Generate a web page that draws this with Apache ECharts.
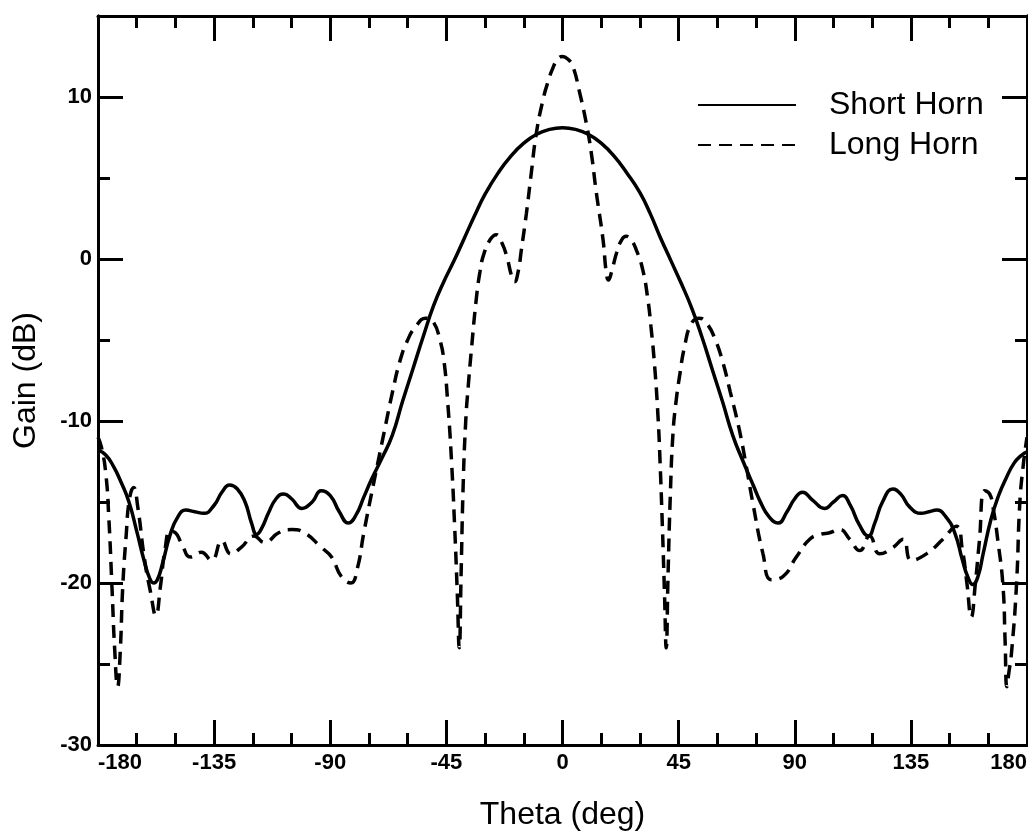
<!DOCTYPE html>
<html>
<head>
<meta charset="utf-8">
<script src="https://cdn.jsdelivr.net/npm/echarts@6/dist/echarts.min.js"></script>
<style>
  html, body { margin: 0; padding: 0; background: #fff; }
  #chart { width: 1028px; height: 831px; }
</style>
</head>
<body>
<div id="chart"></div>
<script>
// ---- data ----
const shortTheta = [-180,-177,-174,-171,-168,-165,-162,-160,-158.5,-157,-155,-152,-149,-146,-142.5,-139,-135,-132,-129,-126,-123,-120.5,-118.5,-116.5,-114,-111,-108,-105,-101,-97,-93.5,-90,-86.5,-83,-80,-77,-74,-70,-66,-62,-58,-54,-50,-46,-42,-38,-34,-30,-25,-20,-15,-10,-5,0,5,10,15,20,25,30,34,38,42,46,50,54,58,62,66,70,74,77,80,83.5,87,90,93,97,101.5,105,108.5,111.5,115,118.5,121,124,128,131,134.5,139,142,145,148.5,152,155,157,159,161,163,166,169,172,175,178,180];
const shortGain = [-11.8,-12.1,-12.8,-13.8,-15.0,-16.8,-18.7,-19.7,-20.0,-19.8,-18.8,-17.0,-15.9,-15.5,-15.6,-15.7,-15.2,-14.4,-13.95,-14.2,-15.0,-16.3,-17.0,-16.6,-15.7,-14.8,-14.5,-14.8,-15.4,-15.0,-14.3,-14.6,-15.6,-16.3,-15.8,-14.7,-13.6,-12.3,-10.9,-8.8,-6.8,-4.8,-2.9,-1.4,-0.1,1.3,2.7,4.0,5.3,6.35,7.15,7.7,8.0,8.1,8.0,7.7,7.15,6.35,5.3,4.1,2.8,1.3,-0.1,-1.5,-3.0,-4.8,-6.8,-8.8,-10.9,-12.5,-14.0,-15.1,-15.9,-16.3,-15.6,-14.8,-14.4,-14.9,-15.4,-15.0,-14.6,-15.2,-16.4,-17.1,-16.3,-15.0,-14.2,-14.5,-15.3,-15.7,-15.6,-15.5,-15.9,-16.9,-18.6,-19.6,-20.1,-19.6,-18.2,-16.1,-14.6,-13.5,-12.6,-12.1,-11.9];

const longTheta = [-180,-178.7,-177,-175.8,-174.6,-173.5,-172.4,-171.4,-170.4,-169.1,-167.8,-166.2,-164.6,-162,-159.6,-157.6,-155.8,-154,-152,-150,-147.8,-144,-140,-136,-132,-128.5,-124.5,-119.5,-115.5,-110,-105,-100,-93.5,-89.5,-85.7,-82,-79.5,-77,-73,-69,-66,-63,-60,-57,-53,-50,-47.5,-46,-44.5,-43,-41.8,-40.8,-40,-39.3,-38.5,-37.5,-36.5,-35.3,-33.5,-32,-30.5,-28,-25.7,-23.5,-21.5,-19.8,-18.6,-17.2,-16,-14,-12.1,-10.2,-7.6,-5.5,-3.7,-2,0,2,4,6.6,9.2,11.2,13.1,15.7,17,17.8,19,21,23,24.7,26.5,28.5,31,33,34.3,35.7,37,37.8,38.7,39.5,40.2,40.9,41.8,42.8,44,45.4,47.3,49.9,53,56,59,62,65,68.6,71,73.8,77.7,80.9,85.4,90.6,95.8,100,103.5,107.4,111.3,115.2,119,122.9,128.1,132,135.2,141,147.4,152.6,155,156.7,158.4,160,161.5,163.6,165.5,166.8,168.8,170.7,171.5,172.2,173,174,175.9,177.2,178.5,180];
const longGain = [-11.0,-11.6,-13.2,-16.0,-20.2,-24.2,-26.4,-24.3,-20.2,-17.1,-14.8,-14.1,-15.3,-18.5,-20.6,-22.0,-20.2,-17.9,-16.8,-16.9,-17.5,-18.4,-18.1,-18.6,-17.4,-18.2,-17.8,-17.1,-17.5,-16.9,-16.7,-16.9,-17.8,-18.4,-19.6,-20.0,-19.1,-16.9,-13.7,-10.6,-8.3,-6.3,-5.0,-4.2,-3.65,-3.9,-5.0,-6.2,-8.8,-12.5,-16.5,-20.5,-24.0,-19.5,-14.0,-10.0,-7.8,-5.6,-2.6,-0.8,0.3,1.2,1.5,1.0,0.1,-1.0,-1.4,-0.8,0.5,2.8,5.3,7.7,9.8,11.0,11.8,12.3,12.5,12.35,11.9,10.3,8.4,6.5,4.1,1.2,-0.9,-1.3,-0.8,0.4,1.2,1.4,1.2,0.6,-0.6,-2.4,-4.2,-6.6,-9.7,-12.5,-16.5,-20.5,-24.0,-19.5,-14.5,-10.8,-8.8,-7.2,-5.4,-4.0,-3.65,-4.0,-4.9,-6.3,-8.2,-10.6,-12.6,-15.1,-18.2,-19.8,-19.6,-18.4,-17.3,-17.0,-16.9,-16.7,-17.3,-18.0,-17.1,-18.2,-17.8,-17.3,-18.6,-18.2,-17.3,-16.5,-18.0,-20.0,-22.1,-20.0,-17.5,-14.3,-14.5,-15.3,-17.5,-20.2,-23.5,-26.4,-25.5,-24.3,-20.2,-15.1,-12.8,-11.0];

const seriesNames = ['Short Horn', 'Long Horn'];
const xName = 'Theta (deg)';
const yName = 'Gain (dB)';

// ---- chart ----
const FONT = '"Liberation Sans", Arial, Helvetica, sans-serif';
const chart = echarts.init(document.getElementById('chart'), null, { renderer: 'canvas' });

const lineCommon = { show: true, onZero: false, lineStyle: { color: '#000', width: 3 } };

function xAxisDef(pos, showLabel) {
  return {
    type: 'value', position: pos, min: -180, max: 180, interval: 45,
    axisLine: lineCommon,
    axisTick: { show: true, inside: true, length: 25, lineStyle: { color: '#000', width: 3 } },
    minorTick: { show: true, splitNumber: 3, length: 12, lineStyle: { color: '#000', width: 3 } },
    splitLine: { show: false }, minorSplitLine: { show: false },
    axisLabel: showLabel ? {
      show: true, color: '#000', fontSize: 22, fontWeight: 'bold', fontFamily: FONT, margin: 7,
      alignMinLabel: 'left', alignMaxLabel: 'right'
    } : { show: false },
    name: showLabel ? xName : '', nameLocation: 'middle', nameGap: 54,
    nameTextStyle: { color: '#000', fontSize: 32, fontFamily: FONT }
  };
}

function yAxisDef(pos, major, showLabel) {
  return {
    type: 'value', position: pos, min: -30, max: 15, interval: major ? 10 : 5,
    axisLine: lineCommon,
    axisTick: { show: true, inside: true, length: major ? 25 : 12, lineStyle: { color: '#000', width: 3 } },
    splitLine: { show: false },
    axisLabel: showLabel ? {
      show: true, color: '#000', fontSize: 22, fontWeight: 'bold', fontFamily: FONT, margin: 6,
      formatter: v => (v > 10 ? '' : String(v))
    } : { show: false },
    name: showLabel ? yName : '', nameLocation: 'middle', nameGap: 56, nameRotate: 90,
    nameTextStyle: { color: '#000', fontSize: 32, fontFamily: FONT }
  };
}

const option = {
  backgroundColor: '#fff',
  animation: false,
  grid: { left: 98, right: 1, top: 16, bottom: 86, containLabel: false, outerBoundsMode: 'none' },
  xAxis: [xAxisDef('bottom', true), xAxisDef('top', false)],
  yAxis: [
    yAxisDef('left', true, true),
    yAxisDef('left', false, false),
    yAxisDef('right', true, false),
    yAxisDef('right', false, false)
  ],
  legend: {
    orient: 'vertical', left: 697, top: 89, padding: 0,
    itemWidth: 98, itemHeight: 14, itemGap: 8,
    itemStyle: { color: 'rgba(0,0,0,0)', borderWidth: 0, opacity: 0 },
    textStyle: { color: '#000', fontSize: 32, fontFamily: FONT, padding: [0, 0, 0, 28] },
    data: seriesNames
  },
  series: [
    {
      name: seriesNames[0], type: 'line', xAxisIndex: 0, yAxisIndex: 0,
      data: shortTheta.map((t, i) => [t, shortGain[i]]),
      symbol: 'none', smooth: 0.5,
      lineStyle: { color: '#000', width: 3.5, type: 'solid' }, itemStyle: { color: '#000' }
    },
    {
      name: seriesNames[1], type: 'line', xAxisIndex: 0, yAxisIndex: 0,
      data: longTheta.map((t, i) => [t, longGain[i]]),
      symbol: 'none', smooth: 0.5,
      lineStyle: { color: '#000', width: 3.5, type: [13, 8] }, itemStyle: { color: '#000' }
    }
  ]
};
chart.setOption(option);
</script>
</body>
</html>
